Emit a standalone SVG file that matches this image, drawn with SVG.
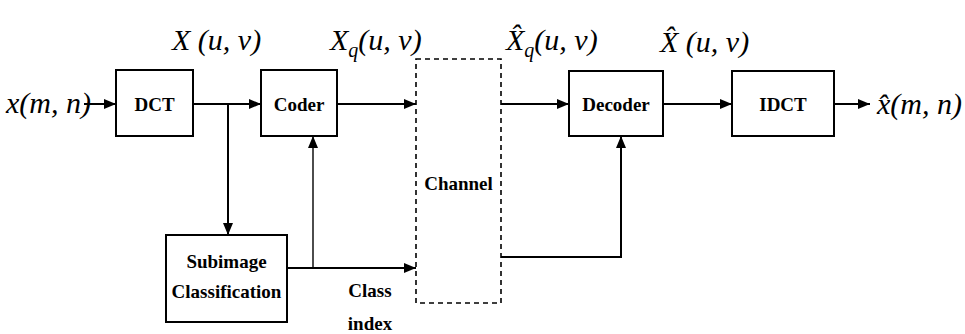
<svg xmlns="http://www.w3.org/2000/svg" width="965" height="334" viewBox="0 0 965 334">
<defs>
<marker id="ah" viewBox="0 0 12 10" refX="12" refY="5" markerWidth="12" markerHeight="10" markerUnits="userSpaceOnUse" orient="auto">
<path d="M0,0 L12,5 L0,10 Z" fill="#000"/>
</marker>
</defs>
<rect width="965" height="334" fill="#fff"/>

<g id="connectors" fill="none" stroke="#000" stroke-width="2">
<line x1="84" y1="104" x2="116" y2="104" marker-end="url(#ah)"/>
<line x1="193" y1="104" x2="261" y2="104" marker-end="url(#ah)"/>
<line x1="228" y1="104" x2="228" y2="235" marker-end="url(#ah)"/>
<line x1="337" y1="104" x2="416" y2="104" marker-end="url(#ah)"/>
<line x1="287" y1="268" x2="416" y2="268" marker-end="url(#ah)"/>
<line x1="313" y1="268" x2="313" y2="136" stroke-width="1.4" marker-end="url(#ah)"/>
<line x1="501" y1="104" x2="569" y2="104" marker-end="url(#ah)"/>
<polyline points="501,257 621,257 621,136" marker-end="url(#ah)"/>
<line x1="663" y1="104" x2="732" y2="104" marker-end="url(#ah)"/>
<line x1="834" y1="104" x2="870" y2="104" marker-end="url(#ah)"/>
</g>

<g id="dct"><rect x="116" y="70" width="77" height="66" fill="#fff" stroke="#000" stroke-width="2"/><text x="154.5" y="111" text-anchor="middle" style="font-family:'Liberation Serif',serif;font-size:19px;font-weight:bold">DCT</text></g>
<g id="coder"><rect x="261" y="70" width="76" height="66" fill="#fff" stroke="#000" stroke-width="2"/><text x="299" y="111" text-anchor="middle" style="font-family:'Liberation Serif',serif;font-size:19px;font-weight:bold">Coder</text></g>
<g id="channel"><rect x="416" y="59" width="85" height="244" fill="#fff" stroke="#000" stroke-width="1.6" stroke-dasharray="5 4"/><text x="458.5" y="190" text-anchor="middle" style="font-family:'Liberation Serif',serif;font-size:19px;font-weight:bold">Channel</text></g>
<g id="decoder"><rect x="569" y="71" width="94" height="65" fill="#fff" stroke="#000" stroke-width="2"/><text x="616" y="111" text-anchor="middle" style="font-family:'Liberation Serif',serif;font-size:19px;font-weight:bold">Decoder</text></g>
<g id="idct"><rect x="732" y="71" width="102" height="65" fill="#fff" stroke="#000" stroke-width="2"/><text x="783" y="111" text-anchor="middle" style="font-family:'Liberation Serif',serif;font-size:19px;font-weight:bold">IDCT</text></g>
<g id="subimage"><rect x="166" y="235" width="121" height="87" fill="#fff" stroke="#000" stroke-width="2"/><text x="226.5" y="268" text-anchor="middle" style="font-family:'Liberation Serif',serif;font-size:19px;font-weight:bold">Subimage</text><text x="226.5" y="298" text-anchor="middle" style="font-family:'Liberation Serif',serif;font-size:19px;font-weight:bold">Classification</text></g>

<g id="labels">
<text x="370" y="297" text-anchor="middle" style="font-family:'Liberation Serif',serif;font-size:19px;font-weight:bold">Class</text>
<text x="370" y="330" text-anchor="middle" style="font-family:'Liberation Serif',serif;font-size:19px;font-weight:bold">index</text>
<text x="6" y="113" style="font-family:'Liberation Serif',serif;font-size:30px;font-style:italic">x(m, n)</text>
<text x="172" y="50" style="font-family:'Liberation Serif',serif;font-size:30px;font-style:italic">X (u, v)</text>
<text x="330" y="50" style="font-family:'Liberation Serif',serif;font-size:30px;font-style:italic">X<tspan font-size="20" dy="7">q</tspan><tspan dy="-7">(u, v)</tspan></text>
<text x="506" y="50" style="font-family:'Liberation Serif',serif;font-size:30px;font-style:italic">X̂<tspan font-size="20" dy="7">q</tspan><tspan dy="-7">(u, v)</tspan></text>
<text x="660" y="52" style="font-family:'Liberation Serif',serif;font-size:30px;font-style:italic">X̂ (u, v)</text>
<text x="877" y="114" style="font-family:'Liberation Serif',serif;font-size:30px;font-style:italic">x̂(m, n)</text>
</g>
</svg>
